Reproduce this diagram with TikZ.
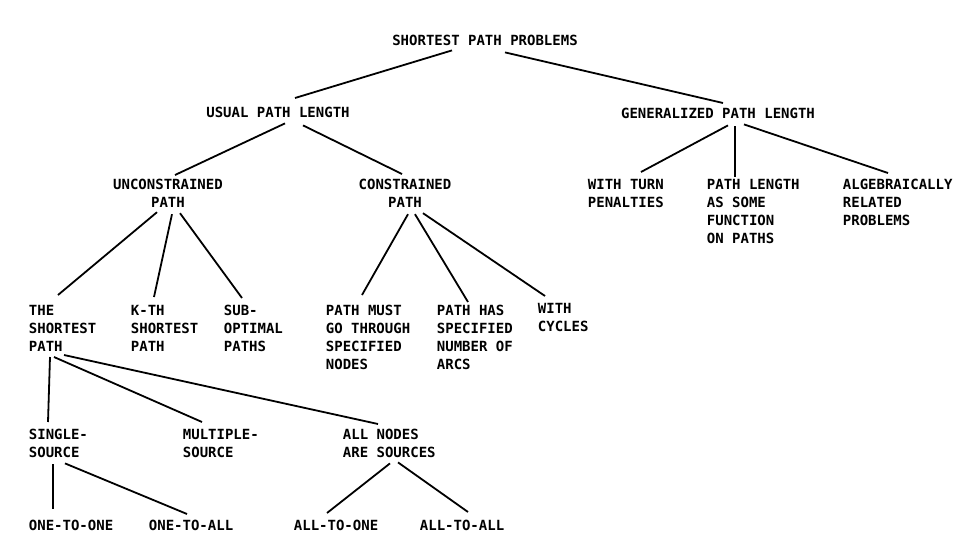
\documentclass[tikz,border=0pt]{standalone}
\usepackage{fontspec}
\setmonofont{DejaVu Sans Mono}
\usetikzlibrary{calc}

\begin{document}
\begin{tikzpicture}[x=1pt,y=-1pt,line width=1.8pt,
            every node/.style={inner sep=0pt,font=\ttfamily\bfseries\fontsize{14pt}{18pt}\selectfont},
            head/.style={anchor=north,align=center},
            leaf/.style={anchor=north west,align=left}]

        \useasboundingbox (0,0) rectangle (969,543);

        % top levels
        \node[head] (spp) at (485,34) {SHORTEST PATH PROBLEMS};
        \node[head] (usual) at (278,106) {USUAL PATH LENGTH};
        \node[head] (gen) at (718,107) {GENERALIZED PATH LENGTH};
        \node[head] (uncon) at (168,178) {UNCONSTRAINED\\PATH};
        \node[head] (con) at (405,178) {CONSTRAINED\\PATH};

        \node[leaf] (turn) at (587,178) {WITH TURN\\PENALTIES};
        \node[leaf] (func) at (706,178) {PATH LENGTH\\AS SOME\\FUNCTION\\ON PATHS};
        \node[leaf] (alg) at (842,178) {ALGEBRAICALLY\\RELATED\\PROBLEMS};

        % third level
        \node[leaf] (the) at (28,304) {THE\\SHORTEST\\PATH};
        \node[leaf] (kth) at (130,304) {K-TH\\SHORTEST\\PATH};
        \node[leaf] (sub) at (223,304) {SUB-\\OPTIMAL\\PATHS};
        \node[leaf] (must) at (325,304) {PATH MUST\\GO THROUGH\\SPECIFIED\\NODES};
        \node[leaf] (arcs) at (436,304) {PATH HAS\\SPECIFIED\\NUMBER OF\\ARCS};
        \node[leaf] (cyc) at (537,302) {WITH\\CYCLES};

        % sources
        \node[leaf] (single) at (28,428) {SINGLE-\\SOURCE};
        \node[leaf] (multi) at (182,428) {MULTIPLE-\\SOURCE};
        \node[leaf] (allsrc) at (342,428) {ALL NODES\\ARE SOURCES};

        \node[leaf] (oo) at (28,519) {ONE-TO-ONE};
        \node[leaf] (oa) at (148,519) {ONE-TO-ALL};
        \node[leaf] (ao) at (293,519) {ALL-TO-ONE};
        \node[leaf] (aa) at (419,519) {ALL-TO-ALL};

        \path
        ($(spp.south)+(-33,4)$) edge ($(usual.north)+(17,-8)$)
        ($(spp.south)+(20,6)$) edge ($(gen.north)+(5,-4)$)
        ($(usual.south)+(7,5)$) edge ($(uncon.north)+(7,-3)$)
        ($(usual.south)+(25,7)$) edge ($(con.north)+(-3,-4)$)
        ($(gen.south)+(10,6)$) edge ($(turn.north west)+(54,-6)$)
        ($(gen.south)+(17,7)$) edge ($(func.north west)+(29,-1)$)
        ($(gen.south)+(26,5)$) edge ($(alg.north west)+(46,-5)$)
        ($(uncon.south)+(-11,4)$) edge ($(the.north west)+(30,-9)$)
        ($(uncon.south)+(4,6)$) edge ($(kth.north west)+(24,-7)$)
        ($(uncon.south)+(12,5)$) edge ($(sub.north west)+(19,-6)$)
        ($(con.south)+(3,6)$) edge ($(must.north west)+(37,-9)$)
        ($(con.south)+(10,6)$) edge ($(arcs.north west)+(32,-2)$)
        ($(con.south)+(18,5)$) edge ($(cyc.north west)+(8,-6)$)
        ($(the.south west)+(22,5)$) edge ($(single.north west)+(20,-6)$)
        ($(the.south west)+(26,5)$) edge ($(multi.north west)+(20,-6)$)
        ($(the.south west)+(36,3)$) edge ($(allsrc.north west)+(36,-4)$)
        ($(single.south west)+(25,6)$) edge ($(oo.north west)+(25,-10)$)
        ($(single.south west)+(37,5)$) edge ($(oa.north west)+(39,-5)$)
        ($(allsrc.south west)+(48,5)$) edge ($(ao.north west)+(34,-6)$)
        ($(allsrc.south west)+(56,4)$) edge ($(aa.north west)+(49,-7)$);

    \end{tikzpicture}
\end{document}
